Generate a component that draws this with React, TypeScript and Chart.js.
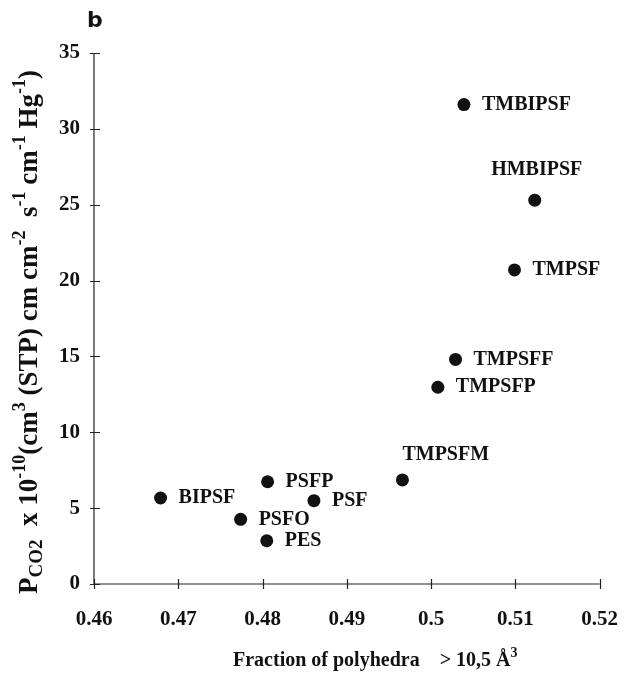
import React, { useEffect, useRef } from "react";
import { Chart, registerables } from "chart.js";

Chart.register(...registerables);

// Polymer names and their measured values
const polymers = ["BIPSF", "PSFP", "PSF", "PSFO", "PES", "TMPSFM", "TMPSFP", "TMPSFF", "TMPSF", "HMBIPSF", "TMBIPSF"];
const fractionAbove105 = [0.4679, 0.4806, 0.4861, 0.4774, 0.4805, 0.4966, 0.5008, 0.5029, 0.5099, 0.5123, 0.5039];
const permeabilityCO2 = [5.67, 6.74, 5.49, 4.26, 2.85, 6.86, 12.97, 14.8, 20.7, 25.3, 31.6];

// Axis ticks
const xTickValues = [0.46, 0.47, 0.48, 0.49, 0.5, 0.51, 0.52];
const yTickValues = [0, 5, 10, 15, 20, 25, 30, 35];

const SERIF = "'Liberation Serif', 'Times New Roman', serif";
const INK = "#111";

type Run = { t: string; k?: "sub" | "sup" };

const yTitleRuns: Run[] = [
  { t: "P" },
  { t: "CO2", k: "sub" },
  { t: "  x 10" },
  { t: "-10", k: "sup" },
  { t: "(cm" },
  { t: "3", k: "sup" },
  { t: " (STP) cm cm" },
  { t: "-2", k: "sup" },
  { t: "  s" },
  { t: "-1", k: "sup" },
  { t: " cm" },
  { t: "-1", k: "sup" },
  { t: " Hg" },
  { t: "-1", k: "sup" },
  { t: ")" },
];

const xTitleRuns: Run[] = [{ t: "Fraction of polyhedra    > 10,5 Å" }, { t: "3", k: "sup" }];

function runFont(size: number, k?: string) {
  const s = k === "sub" ? Math.round(size * 0.72) : k === "sup" ? Math.round(size * 0.68) : size;
  return `bold ${s}px ${SERIF}`;
}

function measureRuns(ctx: CanvasRenderingContext2D, runs: Run[], size: number) {
  let w = 0;
  for (const r of runs) {
    ctx.font = runFont(size, r.k);
    w += ctx.measureText(r.t).width;
  }
  return w;
}

function drawRuns(ctx: CanvasRenderingContext2D, runs: Run[], size: number, x: number, y: number) {
  let cx = x;
  ctx.textBaseline = "alphabetic";
  ctx.textAlign = "left";
  for (const r of runs) {
    ctx.font = runFont(size, r.k);
    const dy = r.k === "sub" ? size * 0.18 : r.k === "sup" ? -size * 0.43 : 0;
    ctx.fillText(r.t, cx, y + dy);
    cx += ctx.measureText(r.t).width;
  }
}

// Where each polymer name sits relative to its marker
const labelSide: Record<string, "right" | "above" | "aboveLeft"> = {
  HMBIPSF: "above",
  TMPSFM: "aboveLeft",
};

const decorations = {
  id: "decorations",
  afterDraw(chart: any) {
    const { ctx, chartArea, scales } = chart;
    const xs = scales.x;
    const ys = scales.y;
    ctx.save();
    ctx.strokeStyle = "#222";
    ctx.fillStyle = INK;
    ctx.lineWidth = 1.2;

    // axis lines
    ctx.beginPath();
    ctx.moveTo(chartArea.left, ys.getPixelForValue(35));
    ctx.lineTo(chartArea.left, chartArea.bottom);
    ctx.lineTo(xs.getPixelForValue(0.52), chartArea.bottom);
    ctx.stroke();

    // crossing tick marks
    ctx.beginPath();
    for (const v of yTickValues) {
      const py = Math.round(ys.getPixelForValue(v)) + 0.5;
      ctx.moveTo(chartArea.left - 4, py);
      ctx.lineTo(chartArea.left + 6, py);
    }
    for (const v of xTickValues) {
      const px = Math.round(xs.getPixelForValue(v)) + 0.5;
      ctx.moveTo(px, chartArea.bottom - 5);
      ctx.lineTo(px, chartArea.bottom + 5);
    }
    ctx.stroke();

    // polymer names
    ctx.font = `bold 20px ${SERIF}`;
    ctx.textBaseline = "middle";
    polymers.forEach((name, i) => {
      const px = xs.getPixelForValue(fractionAbove105[i]);
      const py = ys.getPixelForValue(permeabilityCO2[i]);
      const side = labelSide[name] || "right";
      if (side === "right") {
        ctx.textAlign = "left";
        ctx.fillText(name, px + 18, py);
      } else if (side === "above") {
        ctx.textAlign = "center";
        ctx.fillText(name, px + 2, py - 30);
      } else {
        ctx.textAlign = "left";
        ctx.fillText(name, px, py - 25);
      }
    });

    // y-axis title, rotated
    const ySize = 27;
    const yw = measureRuns(ctx, yTitleRuns, ySize);
    ctx.save();
    ctx.translate(37, 332);
    ctx.rotate(-Math.PI / 2);
    drawRuns(ctx, yTitleRuns, ySize, -yw / 2, 0);
    ctx.restore();

    // x-axis title
    drawRuns(ctx, xTitleRuns, 20, 233, 666);

    // panel letter
    ctx.font = "bold 22px 'DejaVu Sans', sans-serif";
    ctx.textAlign = "left";
    ctx.textBaseline = "alphabetic";
    ctx.fillText("b", 87, 27);

    ctx.restore();
  },
};

export default function App() {
  const ref = useRef<HTMLCanvasElement | null>(null);

  useEffect(() => {
    if (!ref.current) return;
    const tickFont = { family: SERIF, size: 21, weight: "bold" as const };
    const chart = new Chart(ref.current, {
      type: "scatter",
      data: {
        datasets: [
          {
            label: "PCO2",
            data: fractionAbove105.map((x, i) => ({ x, y: permeabilityCO2[i] })),
            backgroundColor: INK,
            borderColor: INK,
            pointRadius: 6.5,
            pointHoverRadius: 6.5,
            borderWidth: 0,
          },
        ],
      },
      options: {
        responsive: false,
        animation: false,
        devicePixelRatio: 1,
        layout: { padding: { left: 0, right: 22, top: 53, bottom: 0 } },
        plugins: { legend: { display: false }, tooltip: { enabled: false } },
        scales: {
          x: {
            type: "linear",
            min: 0.46,
            max: 0.52,
            grid: { display: false, drawTicks: false },
            border: { display: false },
            afterBuildTicks: (s: any) => {
              s.ticks = xTickValues.map((value) => ({ value }));
            },
            afterFit: (s: any) => {
              s.height = 91;
            },
            ticks: {
              color: INK,
              font: tickFont,
              padding: 23,
              maxRotation: 0,
              callback: (v: any) => String(Number(Number(v).toFixed(2))),
            },
          },
          y: {
            type: "linear",
            min: 0,
            max: 35,
            grid: { display: false, drawTicks: false },
            border: { display: false },
            afterBuildTicks: (s: any) => {
              s.ticks = yTickValues.map((value) => ({ value }));
            },
            afterFit: (s: any) => {
              s.width = 94;
            },
            ticks: { color: INK, font: tickFont, padding: 14 },
          },
        },
      },
      plugins: [decorations],
    });
    return () => chart.destroy();
  }, []);

  return (
    <div style={{ position: "absolute", left: 0, top: 0, width: 641, height: 675, background: "#fff" }}>
      <canvas ref={ref} width={641} height={675} style={{ display: "block" }} />
    </div>
  );
}
